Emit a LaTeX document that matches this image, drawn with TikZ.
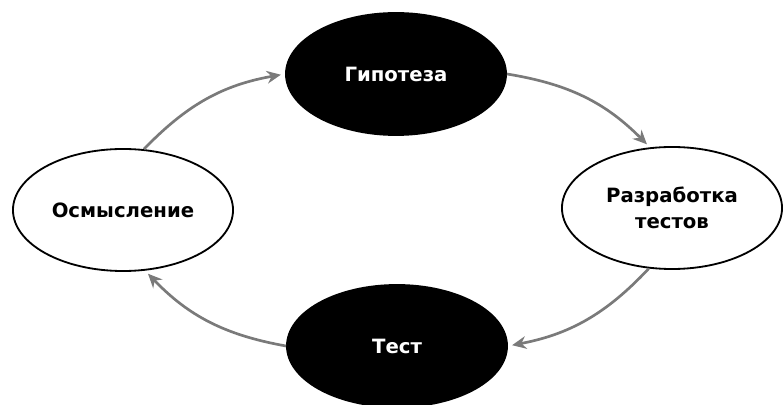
\documentclass[tikz,border=0pt]{standalone}
\usepackage{fontspec}
\setmainfont{DejaVu Sans}
\usetikzlibrary{shapes.geometric,arrows.meta}

\begin{document}
\begin{tikzpicture}[x=0.025cm,y=-0.025cm,
  stage/.style={ellipse,draw=black,line width=1.3pt,inner sep=0pt,
    minimum width=5.5cm,minimum height=3.05cm,align=center,
    font=\fontsize{14}{18.5}\selectfont\bfseries},
  dark/.style={stage,fill=black,text=white},
  light/.style={stage,fill=white,text=black},
  cycle/.style={draw=black!52,line width=1.9pt,-{Stealth[length=10pt,width=9pt]},shorten >=3pt}]
\useasboundingbox (0,0) rectangle (783,405);
\node[dark] (gip) at (396,74) {Гипотеза};
\node[light] (raz) at (672,208) {Разработка\\тестов};
\node[dark] (test) at (397,346) {Тест};
\node[light] (osm) at (123,210) {Осмысление};
\draw[cycle] (osm.71) to[bend left=18] (gip.west);
\draw[cycle] (gip.east) to[bend left=18] (raz.110);
\draw[cycle] (raz.-111) to[bend left=18] (test.east);
\draw[cycle] (test.west) to[bend left=18] (osm.-70);
\end{tikzpicture}
\end{document}
